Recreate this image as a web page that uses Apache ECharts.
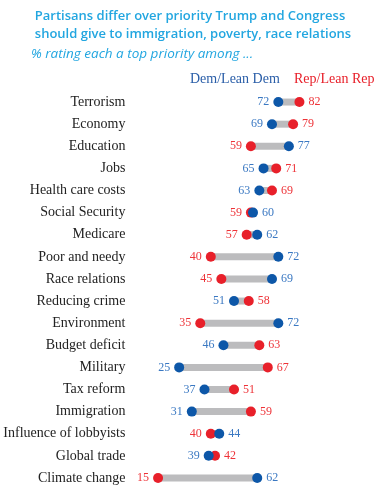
<!DOCTYPE html>
<html><head><meta charset="utf-8">
<script src="https://cdn.jsdelivr.net/npm/echarts@6/dist/echarts.min.js"></script>
<style>html,body{margin:0;padding:0;background:#fff}#c{width:386px;height:499px}</style>
</head><body><div id="c"></div>
<script>
var categories = ["Terrorism","Economy","Education","Jobs","Health care costs","Social Security","Medicare","Poor and needy","Race relations","Reducing crime","Environment","Budget deficit","Military","Tax reform","Immigration","Influence of lobbyists","Global trade","Climate change"];
var demValues = [72,69,77,65,63,60,62,72,69,51,72,46,25,37,31,44,39,62];
var repValues = [82,79,59,71,69,59,57,40,45,58,35,63,67,51,59,40,42,15];

var BLUE_DOT = '#0d57a8', RED_DOT = '#e8202a', BLUE_TXT = '#3a78c2', RED_TXT = '#ee3338';
var serif = '"Liberation Serif", "Times New Roman", serif';

function pts(vals, other) {
  return vals.map(function (v, i) {
    var pos = v < other[i] ? 'left' : (v > other[i] ? 'right' : 'left');
    return { value: [v, categories[i]], label: { position: pos } };
  });
}

var chart = echarts.init(document.getElementById('c'), null, { renderer: 'canvas' });
chart.setOption({
  animation: false,
  graphic: [
    { type: 'text', left: 'center', top: 7, style: { text: 'Partisans differ over priority Trump and Congress\nshould give to immigration, poverty, race relations', fill: '#22a6e0', font: '600 13px "Open Sans", sans-serif', lineHeight: 18, align: 'center' } },
    { type: 'text', left: 31, top: 47, style: { text: '% rating each a top priority among ...', fill: '#22a6e0', font: 'italic 13.5px "Open Sans", sans-serif' } },
    { type: 'text', left: 190, top: 72, style: { text: 'Dem/Lean Dem', fill: '#2a5ea8', font: '14px "Liberation Serif", serif' } },
    { type: 'text', left: 294, top: 72, style: { text: 'Rep/Lean Rep', fill: '#e8202a', font: '14px "Liberation Serif", serif' } }
  ],
  grid: { left: 126.4, right: 48.6, top: 91, bottom: 10, containLabel: false },
  xAxis: { type: 'value', min: 0, max: 100, show: false },
  yAxis: {
    type: 'category', data: categories, inverse: true,
    axisLine: { show: false }, axisTick: { show: false }, splitLine: { show: false },
    axisLabel: {
      margin: 1,
      formatter: function (v) { return '{t|' + v + '}'; },
      rich: { t: { color: '#222', fontFamily: serif, fontSize: 14 } }
    }
  },
  series: [
    {
      type: 'custom',
      renderItem: function (params, api) {
        var a = api.coord([api.value(0), api.value(2)]);
        var b = api.coord([api.value(1), api.value(2)]);
        return { type: 'line', shape: { x1: a[0], y1: a[1], x2: b[0], y2: b[1] }, style: { stroke: '#bcbcbe', lineWidth: 7 } };
      },
      encode: { x: [0, 1], y: 2 },
      data: categories.map(function (c, i) { return [demValues[i], repValues[i], c]; }),
      z: 1
    },
    {
      name: 'Rep/Lean Rep', type: 'scatter', symbolSize: 10, z: 2,
      itemStyle: { color: RED_DOT, opacity: 1 },
      label: { show: true, distance: 4, formatter: function (p) { return '{n|' + p.value[0] + '}'; }, rich: { n: { color: RED_TXT, fontFamily: serif, fontSize: 12 } } },
      data: pts(repValues, demValues)
    },
    {
      name: 'Dem/Lean Dem', type: 'scatter', symbolSize: 10, z: 3,
      itemStyle: { color: BLUE_DOT, opacity: 1 },
      label: { show: true, distance: 4, formatter: function (p) { return '{n|' + p.value[0] + '}'; }, rich: { n: { color: BLUE_TXT, fontFamily: serif, fontSize: 12 } } },
      data: pts(demValues, repValues)
    }
  ]
});
</script></body></html>
